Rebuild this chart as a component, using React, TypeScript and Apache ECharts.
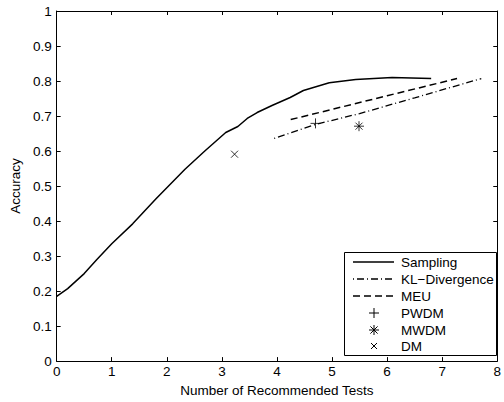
import React, { useEffect, useRef } from "react";
import * as echarts from "echarts";

const samplingX = [0, 0.2, 0.5, 0.73, 1, 1.38, 1.8, 2.33, 2.69, 3.07, 3.29, 3.46, 3.64, 3.91, 4.24, 4.48, 4.95, 5.43, 6.09, 6.8];
const samplingY = [0.185, 0.207, 0.25, 0.29, 0.335, 0.392, 0.463, 0.548, 0.6, 0.653, 0.67, 0.693, 0.71, 0.73, 0.753, 0.773, 0.795, 0.804, 0.81, 0.807];

const klX = [3.95, 4.7, 5.5, 6.5, 7.71];
const klY = [0.636, 0.676, 0.707, 0.752, 0.807];

const meuX = [4.25, 5, 6, 7.27];
const meuY = [0.69, 0.719, 0.758, 0.807];

const pwdm = [4.7, 0.679];
const mwdm = [5.49, 0.671];
const dm = [3.23, 0.591];

const legendNames = ["Sampling", "KL\u2212Divergence", "MEU", "PWDM", "MWDM", "DM"];

const xTicks = { min: 0, max: 8, interval: 1 };
const yTicks = { min: 0, max: 1, interval: 0.1 };

const FONT = "'Liberation Sans', Arial, Helvetica, sans-serif";
const FS = 13.5;

const PLUS = "path://M5,0L5,10M0,5L10,5";
const STAR = "path://M5,0L5,10M0,5L10,5M1.5,1.5L8.5,8.5M8.5,1.5L1.5,8.5";
const CROSS = "path://M0,0L10,10M10,0L0,10";

export default function App() {
  const ref = useRef<HTMLDivElement>(null);
  useEffect(() => {
    if (!ref.current) return;
    const chart = echarts.init(ref.current, null, { renderer: "svg" });
    const axisCommon = {
      axisLine: { show: true, onZero: false, lineStyle: { color: "#000", width: 1 } },
      axisTick: { show: true, inside: true, length: 4, lineStyle: { color: "#000" } },
      splitLine: { show: false },
    };
    const lx0 = 353, lx1 = 394, ltx = 401, lmx = 374;
    const rows = [262, 279, 296, 313, 330, 346];
    const mk = (pts: number[][]) => ({
      type: "polyline",
      shape: { points: pts },
      style: { stroke: "#000", lineWidth: 1, fill: "none" },
    });
    const markerGraphic = (kind: string, cx: number, cy: number, r: number) => {
      const items: any[] = [];
      if (kind === "plus" || kind === "star") {
        items.push(mk([[cx - r, cy], [cx + r, cy]]), mk([[cx, cy - r], [cx, cy + r]]));
      }
      if (kind === "star" || kind === "cross") {
        const d = kind === "star" ? r * 0.72 : r * 0.75;
        items.push(mk([[cx - d, cy - d], [cx + d, cy + d]]), mk([[cx - d, cy + d], [cx + d, cy - d]]));
      }
      return items;
    };
    const graphic: any[] = [
      {
        type: "rect",
        shape: { x: 344.5, y: 252.5, width: 152, height: 103 },
        style: { fill: "#fff", stroke: "#000", lineWidth: 1 },
        z: 100,
      },
      { type: "line", shape: { x1: lx0, y1: rows[0], x2: lx1, y2: rows[0] }, style: { stroke: "#000", lineWidth: 1.5 }, z: 101 },
      { type: "line", shape: { x1: lx0, y1: rows[1], x2: lx1, y2: rows[1] }, style: { stroke: "#000", lineWidth: 1.3, lineDash: [1, 3, 7, 3] }, z: 101 },
      { type: "line", shape: { x1: lx0, y1: rows[2], x2: lx1, y2: rows[2] }, style: { stroke: "#000", lineWidth: 1.5, lineDash: [7, 4] }, z: 101 },
      ...markerGraphic("plus", lmx, rows[3], 5).map((g) => ({ ...g, z: 101 })),
      ...markerGraphic("star", lmx, rows[4], 5).map((g) => ({ ...g, z: 101 })),
      ...markerGraphic("cross", lmx, rows[5], 4).map((g) => ({ ...g, z: 101 })),
      ...legendNames.map((n, i) => ({
        type: "text",
        x: ltx,
        y: rows[i],
        z: 101,
        style: { text: n, fill: "#000", font: `${FS}px ${FONT}`, verticalAlign: "middle", align: "left" },
      })),
    ];
    chart.setOption({
      animation: false,
      backgroundColor: "#fff",
      textStyle: { fontFamily: FONT },
      grid: { left: 56, top: 11, right: 1, bottom: 39, containLabel: false },
      xAxis: [
        {
          type: "value",
          position: "bottom",
          ...xTicks,
          ...axisCommon,
          name: "Number of Recommended Tests",
          nameLocation: "middle",
          nameGap: 21,
          nameTextStyle: { color: "#000", fontSize: FS, fontFamily: FONT },
          axisLabel: { show: true, color: "#000", fontSize: FS, margin: 3, fontFamily: FONT },
        },
        {
          type: "value",
          position: "top",
          ...xTicks,
          ...axisCommon,
          axisLabel: { show: false },
        },
      ],
      yAxis: [
        {
          type: "value",
          position: "left",
          ...yTicks,
          ...axisCommon,
          name: "Accuracy",
          nameLocation: "middle",
          nameGap: 29,
          nameRotate: 90,
          nameTextStyle: { color: "#000", fontSize: FS, fontFamily: FONT },
          axisLabel: { show: true, color: "#000", fontSize: FS, margin: 5, fontFamily: FONT },
        },
        {
          type: "value",
          position: "right",
          ...yTicks,
          ...axisCommon,
          axisLabel: { show: false },
        },
      ],
      series: [
        {
          name: legendNames[0],
          type: "line",
          data: samplingX.map((x, i) => [x, samplingY[i]]),
          showSymbol: false,
          symbol: "none",
          lineStyle: { color: "#000", width: 1.5 },
        },
        {
          name: legendNames[1],
          type: "line",
          data: klX.map((x, i) => [x, klY[i]]),
          symbol: "none",
          lineStyle: { color: "#000", width: 1.3, type: [1, 3, 7, 3] },
        },
        {
          name: legendNames[2],
          type: "line",
          data: meuX.map((x, i) => [x, meuY[i]]),
          symbol: "none",
          lineStyle: { color: "#000", width: 1.5, type: [7, 4] },
        },
        {
          name: legendNames[3],
          type: "scatter",
          data: [pwdm],
          symbol: PLUS,
          symbolSize: 10,
          itemStyle: { color: "none", borderColor: "#000", borderWidth: 1 },
        },
        {
          name: legendNames[4],
          type: "scatter",
          data: [mwdm],
          symbol: STAR,
          symbolSize: 10,
          itemStyle: { color: "none", borderColor: "#000", borderWidth: 1 },
        },
        {
          name: legendNames[5],
          type: "scatter",
          data: [dm],
          symbol: CROSS,
          symbolSize: 7,
          itemStyle: { color: "none", borderColor: "#000", borderWidth: 1 },
        },
      ],
      graphic,
    });
    return () => chart.dispose();
  }, []);
  return <div ref={ref} style={{ width: 504, height: 402, position: "absolute", left: 0, top: 0 }} />;
}
